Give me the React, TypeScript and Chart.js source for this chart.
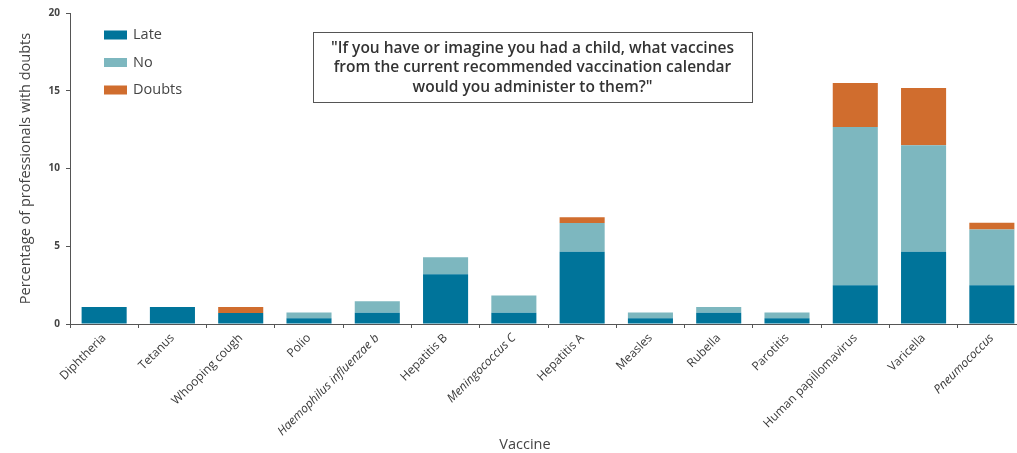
import React, { useEffect, useRef } from "react";
import { Chart, registerables } from "chart.js";

Chart.register(...registerables);

const categories = [
  "Diphtheria",
  "Tetanus",
  "Whooping cough",
  "Polio",
  "Haemophilus influenzae b",
  "Hepatitis B",
  "Meningococcus C",
  "Hepatitis A",
  "Measles",
  "Rubella",
  "Parotitis",
  "Human papillomavirus",
  "Varicella",
  "Pneumococcus",
];
const italicCategories = ["Haemophilus influenzae b", "Meningococcus C", "Pneumococcus"];

const lateValues = [1.1, 1.1, 0.7, 0.37, 0.73, 3.2, 0.73, 4.65, 0.37, 0.73, 0.37, 2.5, 4.65, 2.5];
const noValues = [0, 0, 0, 0.37, 0.73, 1.1, 1.1, 1.85, 0.37, 0.37, 0.37, 10.17, 6.85, 3.57];
const doubtsValues = [0, 0, 0.4, 0, 0, 0, 0, 0.37, 0, 0, 0, 2.83, 3.67, 0.44];

const yTicks = [0, 5, 10, 15, 20];

const titleLines = [
  "\"If you have or imagine you had a child, what vaccines",
  "from the current recommended vaccination calendar",
  "would you administer to them?\"",
];
const xTitle = "Vaccine";

const FONT = "'Open Sans', 'DejaVu Sans', sans-serif";
const TEXT = "#444444";

const legendPlugin = {
  id: "customLegend",
  afterDraw(chart: any) {
    const ctx = chart.ctx;
    ctx.save();
    const x0 = 104;
    const y0 = 35;
    const gap = 27.5;
    chart.data.datasets.forEach((ds: any, i: number) => {
      const cy = y0 + i * gap;
      ctx.fillStyle = ds.backgroundColor;
      ctx.fillRect(x0, cy - 4.5, 23, 9);
      ctx.fillStyle = TEXT;
      ctx.font = `14.5px ${FONT}`;
      ctx.textBaseline = "middle";
      ctx.textAlign = "left";
      ctx.fillText(ds.label, x0 + 29, cy);
    });
    ctx.restore();
  },
};

const titleBoxPlugin = {
  id: "titleBox",
  afterDraw(chart: any) {
    const ctx = chart.ctx;
    ctx.save();
    ctx.strokeStyle = "#555555";
    ctx.lineWidth = 1;
    ctx.strokeRect(313.5, 32.5, 439, 70);
    ctx.fillStyle = "#333333";
    ctx.font = `600 15.5px ${FONT}`;
    ctx.textAlign = "center";
    ctx.textBaseline = "middle";
    titleLines.forEach((line, i) => {
      ctx.fillText(line, 532.5, 48.5 + i * 19.3);
    });
    ctx.font = `14.5px ${FONT}`;
    ctx.fillStyle = TEXT;
    ctx.fillText(xTitle, 525, 445);
    ctx.restore();
  },
};

export default function App() {
  const ref = useRef<HTMLCanvasElement | null>(null);

  useEffect(() => {
    if (!ref.current) return;
    const chart = new Chart(ref.current, {
      type: "bar",
      data: {
        labels: categories,
        datasets: [
          { label: "Late", data: lateValues, backgroundColor: "#00749a" },
          { label: "No", data: noValues, backgroundColor: "#7db7bf" },
          { label: "Doubts", data: doubtsValues, backgroundColor: "#d06d2e" },
        ],
      },
      options: {
        responsive: false,
        animation: false,
        layout: { padding: { left: 0, right: 19, top: 13, bottom: 0 } },
        datasets: { bar: { barPercentage: 0.66, categoryPercentage: 1 } },
        plugins: {
          legend: { display: false },
          tooltip: { enabled: false },
        },
        scales: {
          x: {
            stacked: true,
            grid: {
              display: true,
              drawOnChartArea: false,
              drawTicks: true,
              tickLength: 4,
              color: "#555555",
              offset: true,
            },
            border: { display: true, color: "#555555", width: 1 },
            ticks: {
              autoSkip: false,
              maxRotation: 45,
              minRotation: 45,
              padding: 3,
              color: "#3a3a3a",
              font: (c: any) => ({
                family: FONT,
                size: 12,
                style: italicCategories.includes(categories[c.index]) ? "italic" : "normal",
              }),
            },
            title: { display: false },
            afterFit: (scale: any) => {
              scale.height = 129;
            },
          },
          y: {
            stacked: true,
            min: 0,
            max: 20,
            afterBuildTicks: (scale: any) => {
              scale.ticks = yTicks.map((v) => ({ value: v }));
            },
            grid: {
              display: true,
              drawOnChartArea: false,
              drawTicks: true,
              tickLength: 4,
              color: "#555555",
            },
            border: { display: true, color: "#555555", width: 1 },
            ticks: {
              padding: 6,
              color: TEXT,
              font: { family: FONT, size: 10, weight: "bold" },
            },
            title: {
              display: true,
              text: "Percentage of professionals with doubts",
              color: TEXT,
              font: { family: FONT, size: 14.5 },
              padding: { top: 17, bottom: 0 },
            },
            afterFit: (scale: any) => {
              scale.width = 70;
            },
          },
        },
      },
      plugins: [legendPlugin, titleBoxPlugin],
    } as any);
    return () => chart.destroy();
  }, []);

  return (
    <div style={{ position: "absolute", left: 0, top: 0, width: 1017, height: 453, overflow: "hidden", background: "#fff" }}>
      <canvas ref={ref} width={1045} height={453} style={{ display: "block" }} />
    </div>
  );
}
